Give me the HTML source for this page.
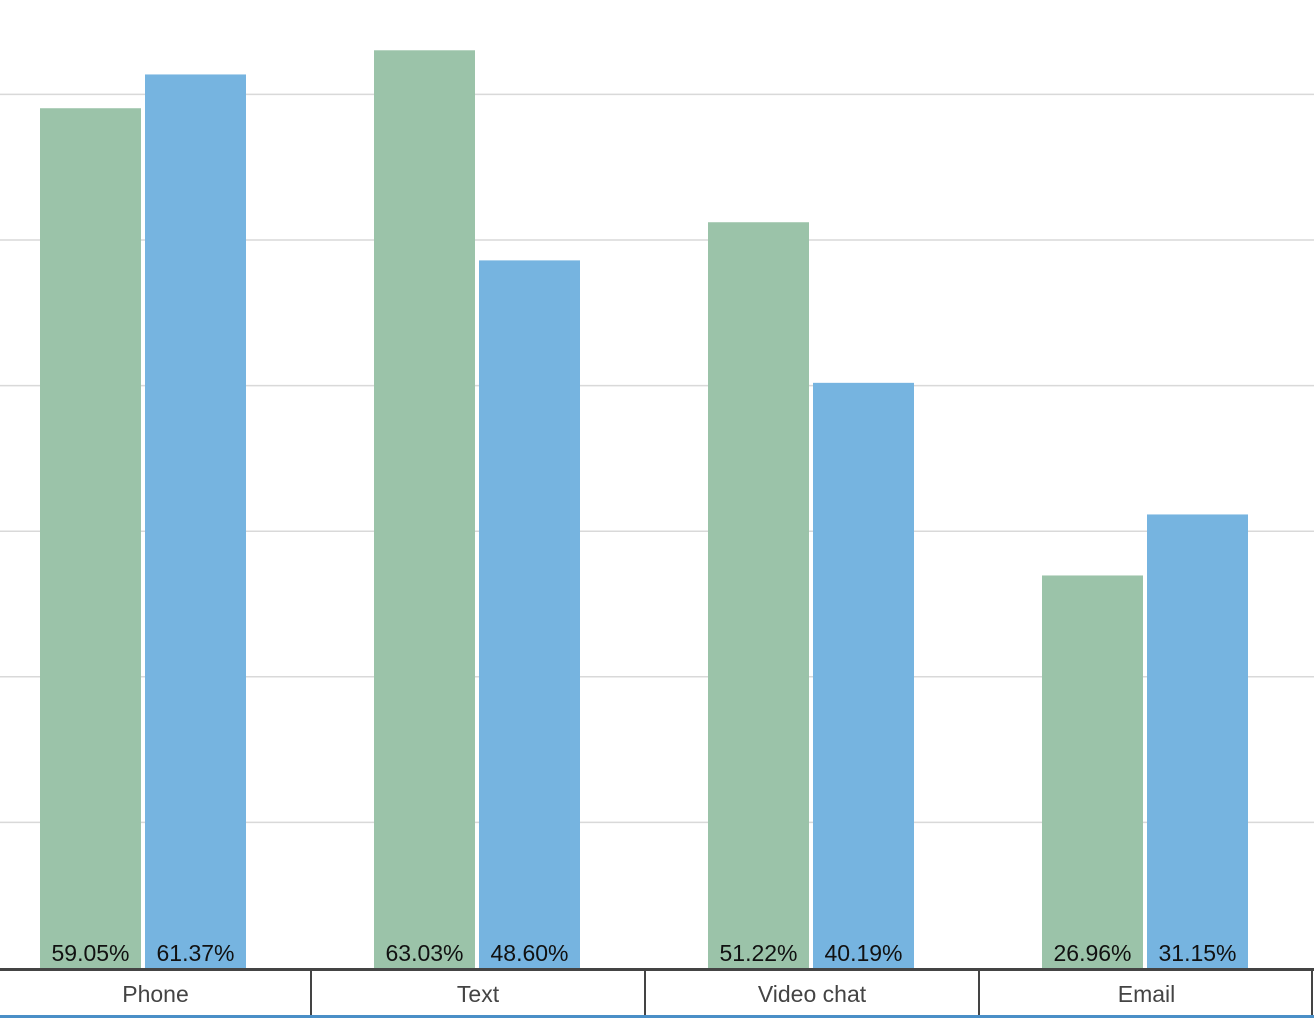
<!DOCTYPE html>
<html><head><meta charset="utf-8"><style>
html,body{margin:0;padding:0;background:#fff;}
svg{display:block;font-family:"Liberation Sans",Roboto,sans-serif;}
</style></head><body>
<svg id="chart" width="1314" height="1018" viewBox="0 0 1314 1018" xmlns="http://www.w3.org/2000/svg">
<g id="grid"></g>
<g id="bars"></g>
<g id="axis"></g>
</svg>
<script>
const categories = ["Phone", "Text", "Video chat", "Email"];
const seriesA = [59.05, 63.03, 51.22, 26.96];
const seriesB = [61.37, 48.60, 40.19, 31.15];
const gridValues = [10, 20, 30, 40, 50, 60];

const NS = "http://www.w3.org/2000/svg";
const baseY = 968, pxPerUnit = 14.56;
function yScale(v){ return baseY - v * pxPerUnit; }
function groupX(i){ return 40 + i * 334; }
const barW = 101, gap = 4;
function mk(tag, attrs, parent){ const e = document.createElementNS(NS, tag); for (const k in attrs) e.setAttribute(k, attrs[k]); parent.appendChild(e); return e; }

const grid = document.getElementById('grid');
gridValues.forEach(v => {
  const l = mk('line', {x1:0, x2:1314, y1:yScale(v), y2:yScale(v), stroke:'#d9d9d9', 'stroke-width':1.5}, grid);
  
  
});

const bars = document.getElementById('bars');
function drawBar(v, x, color, name){
  const r = mk('rect', {x:x, y:yScale(v), width:barW, height:baseY - yScale(v), fill:color}, bars);
  
  
  const t = mk('text', {x:x + barW/2, y:baseY - 7, 'text-anchor':'middle', 'font-size':23, fill:'#111'}, bars);
  t.textContent = v.toFixed(2) + '%';
  
  
}
categories.forEach((c, i) => {
  drawBar(seriesA[i], groupX(i), '#9bc3a9', 'bar-green');
  drawBar(seriesB[i], groupX(i) + barW + gap, '#76b4e0', 'bar-blue');
});

const axis = document.getElementById('axis');
const bl = mk('rect', {x:0, y:968, width:1314, height:3, fill:'#444'}, axis);


const bb = mk('rect', {x:0, y:1015, width:1314, height:3, fill:'#4a8fc7'}, axis);


const bounds = [0, 311, 645, 979, 1314];
categories.forEach((c, i) => {
  if (i > 0) {
    const d = mk('rect', {x:bounds[i]-1, y:971, width:2, height:44, fill:'#444'}, axis);
    
    
  }
  const t = mk('text', {x:(bounds[i]+bounds[i+1])/2, y:1002, 'text-anchor':'middle', 'font-size':23, fill:'#444'}, axis);
  t.textContent = c;
  
  
});
const rb = mk('rect', {x:1311, y:971, width:2, height:44, fill:'#444'}, axis);


</script>
</body></html>
